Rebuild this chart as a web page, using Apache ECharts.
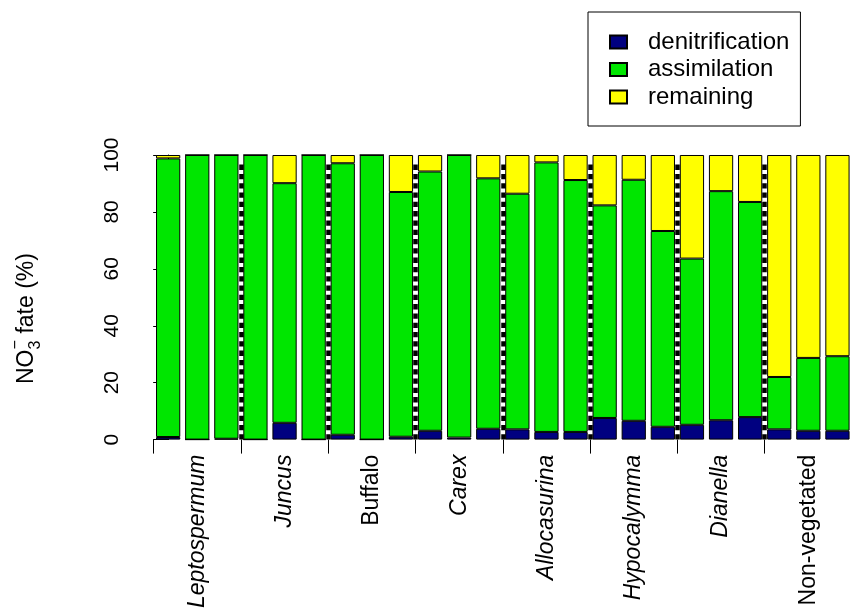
<!DOCTYPE html>
<html>
<head>
<meta charset="utf-8">
<script src="https://cdn.jsdelivr.net/npm/echarts@6/dist/echarts.min.js"></script>
<style>
html,body{margin:0;padding:0;background:#fff;}
#chart{width:852px;height:611px;}
</style>
</head>
<body>
<div id="chart"></div>
<script>
// ---- data ----
const groups = ['Leptospermum','Juncus','Buffalo','Carex','Allocasurina','Hypocalymma','Dianella','Non-vegetated'];
const groupItalic = [true, true, false, true, true, true, true, false];
const replicates = [1, 2, 3];
const denitrification = [0.9, 0, 0.3, 0, 5.9, 0, 1.7, 0, 1.0, 3.1, 0.7, 3.8, 3.6, 2.7, 2.7, 7.6, 6.6, 4.5, 5.2, 6.8, 7.9, 3.6, 3.1, 3.1];
const assimilation = [97.9, 100, 99.7, 100, 84.2, 100, 95.4, 100, 86.0, 91.1, 99.3, 88.0, 82.8, 94.7, 88.5, 74.7, 84.7, 68.8, 58.4, 80.5, 75.6, 18.4, 25.6, 26.2];
const remaining = [1.2, 0, 0, 0, 9.9, 0, 2.9, 0, 13.0, 5.8, 0, 8.2, 13.6, 2.6, 8.8, 17.7, 8.7, 26.7, 36.4, 12.7, 16.5, 78.0, 71.3, 70.7];
const yTicks = [0, 20, 40, 60, 80, 100];

const categories = [];
groups.forEach(g => replicates.forEach(r => categories.push(g + ' ' + r)));
const nPer = replicates.length;
const separators = [];
for (let g = 1; g < groups.length; g++) separators.push(g * nPer - 0.5);

const chart = echarts.init(document.getElementById('chart'));
const FONT = '"Liberation Sans", Arial, sans-serif';
const barStyle = c => ({ color: c, borderColor: '#000', borderWidth: 1 });

const option = {
  backgroundColor: '#fff',
  animation: false,
  textStyle: { fontFamily: FONT, color: '#000' },
  grid: { left: 153.6, top: 155, width: 699.6, bottom: 170, containLabel: false },
  legend: {
    left: 588, top: 12, orient: 'vertical',
    padding: [18, 11, 17, 21],
    borderColor: '#000', borderWidth: 1, backgroundColor: '#fff',
    itemWidth: 17, itemHeight: 13, itemGap: 3.5,
    icon: 'rect',
    textStyle: { fontSize: 24, fontFamily: FONT, color: '#000', padding: [0, 0, 0, 16] },
    data: ['denitrification', 'assimilation', 'remaining']
  },
  xAxis: [
    {
      type: 'category', data: categories, boundaryGap: true,
      axisLine: { show: false },
      axisTick: { show: true, length: 14, lineStyle: { color: '#000', width: 1 },
        interval: (i) => i % nPer === 0 },
      axisLabel: {
        show: true, rotate: 90, margin: 15, hideOverlap: false,
        interval: (i) => i % nPer === 1,
        formatter: (v, i) => {
          const g = Math.floor(i / nPer);
          return '{' + (groupItalic[g] ? 'i' : 'n') + '|' + groups[g] + '}';
        },
        rich: {
          i: { fontSize: 23, fontStyle: 'italic', fontFamily: FONT, color: '#000' },
          n: { fontSize: 23, fontFamily: FONT, color: '#000' }
        }
      },
      splitLine: { show: false }
    },
    { type: 'value', min: -0.5, max: 23.5, show: false }
  ],
  yAxis: {
    type: 'value', min: 0, max: 100, interval: 20, offset: 1.6,
    axisLine: { show: true, lineStyle: { color: '#000', width: 1 } },
    axisTick: { show: true, length: 15, lineStyle: { color: '#000', width: 1 } },
    axisLabel: { rotate: 90, margin: 29, fontSize: 21, fontFamily: FONT, color: '#000',
      formatter: v => yTicks.includes(v) ? String(v) : '' },
    splitLine: { show: false }
  },
  series: [
    { name: 'denitrification', type: 'bar', stack: 's', data: denitrification,
      barCategoryGap: '16.67%', itemStyle: barStyle('#000080') },
    { name: 'assimilation', type: 'bar', stack: 's', data: assimilation,
      barCategoryGap: '16.67%', itemStyle: barStyle('#00E600') },
    { name: 'remaining', type: 'bar', stack: 's', data: remaining,
      barCategoryGap: '16.67%', itemStyle: barStyle('#FFFF00') },
    { name: 'sep', type: 'line', xAxisIndex: 1, yAxisIndex: 0, data: [], z: 5,
      markLine: {
        silent: true, symbol: ['none', 'none'], label: { show: false },
        lineStyle: { color: '#000', width: 4.5, type: [5.3, 4] },
        data: separators.map(x => [{ coord: [x, 0] }, { coord: [x, 97] }])
      }
    }
  ],
  graphic: [
    {
      type: 'group', x: 27, y: 384, rotation: Math.PI / 2,
      children: [
        { type: 'text', style: { text: 'NO', x: 0, y: 0, font: '23px ' + FONT, fill: '#000', align: 'left', verticalAlign: 'middle' } },
        { type: 'text', style: { text: '3', x: 34.5, y: 9, font: '16px ' + FONT, fill: '#000', align: 'left', verticalAlign: 'middle' } },
        { type: 'text', style: { text: '\u2212', x: 34.5, y: -11, font: '16px ' + FONT, fill: '#000', align: 'left', verticalAlign: 'middle' } },
        { type: 'text', style: { text: ' fate (%)', x: 44, y: 0, font: '23px ' + FONT, fill: '#000', align: 'left', verticalAlign: 'middle' } }
      ]
    }
  ]
};
chart.setOption(option);
</script>
</body>
</html>
